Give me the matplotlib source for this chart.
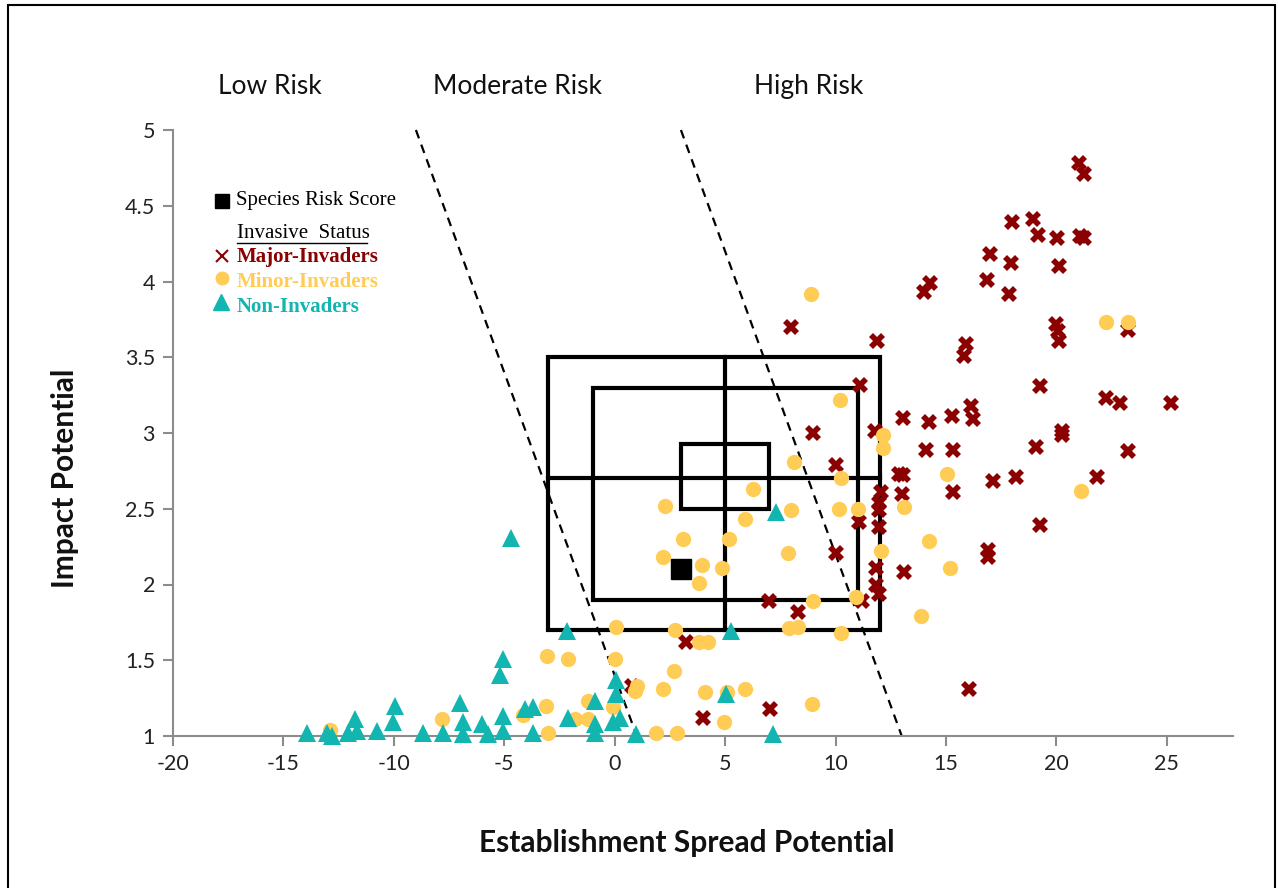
import matplotlib
matplotlib.use("Agg")
import matplotlib.pyplot as plt
from matplotlib.lines import Line2D
from matplotlib.patches import Rectangle

plt.rcParams['axes.unicode_minus'] = False

# ---------------- data ----------------
major_x = [21.02, 21.25, 18.01, 18.94, 19.18, 20.04, 21.07, 21.25, 16.98, 17.96,
           20.12, 16.88, 17.86, 20.0, 20.09, 20.12, 23.24, 15.93, 15.82, 19.24,
           22.23, 22.9, 25.21, 16.13, 16.23, 15.29, 20.24, 20.24, 19.06, 15.33,
           23.24, 17.15, 18.19, 21.85, 15.33, 19.24, 16.92, 16.92, 16.05, 7.99,
           11.9, 11.12, 13.07, 14.24, 8.97, 11.8, 14.09, 10.02, 12.86, 13.07,
           12.06, 12.99, 11.98, 11.98, 11.08, 11.98, 10.02, 11.83, 13.11, 11.83,
           11.98, 11.22, 6.98, 8.29, 7.05, 3.99, 3.21, 0.8, 14.0, 14.3]
major_y = [4.78, 4.71, 4.39, 4.41, 4.31, 4.29, 4.30, 4.29, 4.18, 4.12,
           4.10, 4.01, 3.92, 3.72, 3.67, 3.61, 3.68, 3.59, 3.51, 3.31,
           3.23, 3.20, 3.20, 3.18, 3.09, 3.11, 3.01, 2.99, 2.91, 2.89,
           2.88, 2.68, 2.71, 2.71, 2.61, 2.39, 2.23, 2.18, 1.31, 3.70,
           3.61, 3.32, 3.10, 3.07, 3.00, 3.01, 2.89, 2.79, 2.73, 2.72,
           2.61, 2.60, 2.54, 2.49, 2.41, 2.38, 2.21, 2.11, 2.08, 2.00,
           1.94, 1.89, 1.89, 1.82, 1.18, 1.12, 1.62, 1.33, 3.93, 3.99]

minor_x = [-12.9, -7.8, -3.05, -2.1, 0.0, 0.05, 2.75, 2.7, 0.9, 1.0,
           2.2, -3.09, -4.15, -1.2, -0.08, -1.8, -1.2, -3.0, 1.88, 2.8,
           2.26, 6.25, 8.0, 5.88, 3.1, 5.17, 7.84, 2.2, 3.95, 4.87,
           3.84, 8.97, 10.93, 7.9, 8.3, 10.25, 3.84, 4.22, 4.07, 5.08,
           5.92, 8.94, 4.93, 10.17, 11.0, 8.89, 10.2, 12.13, 12.17, 8.14,
           15.07, 10.25, 13.11, 14.24, 12.06, 15.18, 13.87, 22.23, 23.24, 21.1]
minor_y = [1.04, 1.11, 1.53, 1.51, 1.51, 1.72, 1.70, 1.43, 1.30, 1.33,
           1.31, 1.20, 1.14, 1.23, 1.19, 1.11, 1.11, 1.02, 1.02, 1.02,
           2.52, 2.63, 2.49, 2.43, 2.30, 2.30, 2.21, 2.18, 2.13, 2.11,
           2.01, 1.89, 1.92, 1.71, 1.72, 1.68, 1.62, 1.62, 1.29, 1.29,
           1.31, 1.21, 1.09, 2.50, 2.50, 3.92, 3.22, 2.99, 2.90, 2.81,
           2.73, 2.70, 2.51, 2.29, 2.22, 2.11, 1.79, 3.73, 3.73, 2.62]

non_x = [-13.95, -13.03, -12.81, -12.06, -11.75, -11.68, -10.77, -9.95, -10.02, -8.67,
         -7.76, -7.01, -6.86, -6.86, -6.03, -5.73, -5.05, -5.2, -2.18, -5.05,
         -5.05, -4.07, -3.69, -3.69, -2.11, -0.9, -0.9, -0.9, -0.08, 0.23,
         0.07, 0.07, 0.98, -4.7, 7.31, 5.27, 5.05, 7.16]
non_y = [1.02, 1.02, 1.00, 1.02, 1.11, 1.03, 1.03, 1.20, 1.09, 1.02,
         1.02, 1.22, 1.09, 1.01, 1.08, 1.01, 1.51, 1.40, 1.69, 1.13,
         1.03, 1.18, 1.19, 1.02, 1.12, 1.23, 1.08, 1.02, 1.09, 1.12,
         1.37, 1.28, 1.01, 2.31, 2.48, 1.69, 1.28, 1.01]

species_x = [3.0]
species_y = [2.1]

# confidence boxes (outer, middle, inner)
box_x0 = [-3, -1, 3]
box_x1 = [12, 11, 7]
box_y0 = [1.7, 1.9, 2.5]
box_y1 = [3.5, 3.3, 2.93]
cross_x = 5
cross_y = 2.7

# risk boundary lines
line1_x = [-9, 1]
line1_y = [5, 1]
line2_x = [3, 13]
line2_y = [5, 1]

region_labels = ["Low Risk", "Moderate Risk", "High Risk"]
region_x = [-15.6, -4.4, 8.8]

xticks = [-20, -15, -10, -5, 0, 5, 10, 15, 20, 25]
yticks = [1, 1.5, 2, 2.5, 3, 3.5, 4, 4.5, 5]
ytick_labels = ["1", "1.5", "2", "2.5", "3", "3.5", "4", "4.5", "5"]

c_major = "#8B0000"
c_minor = "#FFCC55"
c_non = "#12B5B0"

W, H = 1278, 888
fig = plt.figure(figsize=(W / 100, H / 100), dpi=100)
fig.patch.set_facecolor("white")

def fx(px):
    return px / W

def fy(py):
    return 1 - py / H

ax = fig.add_axes([fx(173), fy(736), (1233 - 173) / W, (736 - 130) / H])
ax.set_xlim(-20, 28)
ax.set_ylim(1, 5)

font = "Lato"

# boxes
for x0, x1, y0, y1 in zip(box_x0, box_x1, box_y0, box_y1):
    ax.add_patch(Rectangle((x0, y0), x1 - x0, y1 - y0, fill=False,
                           edgecolor="black", linewidth=3, zorder=2))
ax.plot([cross_x, cross_x], [box_y0[0], box_y1[0]], color="black", lw=3, zorder=2)
ax.plot([box_x0[0], box_x1[0]], [cross_y, cross_y], color="black", lw=3, zorder=2)

# risk lines
for lx, ly in [(line1_x, line1_y), (line2_x, line2_y)]:
    ax.plot(lx, ly, color="black", lw=1.6, linestyle=(0, (4, 3)), zorder=2,
            clip_on=False)

# points
ax.plot(major_x, major_y, linestyle="none", marker="X", markersize=11,
        color=c_major, markeredgewidth=0, zorder=3, clip_on=False)
ax.plot(minor_x, minor_y, linestyle="none", marker="o", markersize=11,
        color=c_minor, markeredgewidth=0, zorder=4, clip_on=False)
ax.plot(non_x, non_y, linestyle="none", marker="^", markersize=13,
        color=c_non, markeredgewidth=0, zorder=5, clip_on=False)
ax.plot(species_x, species_y, linestyle="none", marker="s", markersize=14,
        color="black", zorder=6)

# axes styling
for s in ["top", "right"]:
    ax.spines[s].set_visible(False)
for s in ["left", "bottom"]:
    ax.spines[s].set_color("#8c8c8c")
    ax.spines[s].set_linewidth(1.5)
ax.set_xticks(xticks)
ax.set_xticklabels([str(t) for t in xticks])
ax.set_yticks(yticks)
ax.set_yticklabels(ytick_labels)
ax.tick_params(axis="both", direction="out", length=7, width=1.5, color="#8c8c8c",
               labelsize=15.5, labelcolor="#222222", pad=6)
for lab in ax.get_xticklabels() + ax.get_yticklabels():
    lab.set_fontfamily(font)

# axis titles
fig.text(fx(687), fy(843), "Establishment Spread Potential", fontsize=21.5,
         fontweight="bold", family=font, ha="center", va="center", color="#111111")
fig.text(fx(65), fy(478), "Impact Potential", fontsize=21.5, fontweight="bold",
         family=font, ha="center", va="center", rotation=90, color="#111111")

# region labels
for lbl, rx in zip(region_labels, region_x):
    ax.text(rx, 5.29, lbl, fontsize=19, family=font, ha="center", va="center",
            color="#111111", clip_on=False)

# legend
serif = "Liberation Serif"
lfs = 15
fig.add_artist(Line2D([fx(222)], [fy(201)], marker="s", markersize=10,
                      color="black", linestyle="none", transform=fig.transFigure))
fig.text(fx(236), fy(201), "Species Risk Score", fontsize=lfs, family=serif,
         ha="left", va="center", color="black")
fig.text(fx(237), fy(233), "Invasive  Status", fontsize=lfs, family=serif,
         ha="left", va="center", color="black")
fig.add_artist(Line2D([fx(237), fx(367)], [fy(243), fy(243)], color="black",
                      lw=1, transform=fig.transFigure))
fig.add_artist(Line2D([fx(222)], [fy(256)], marker="x", markersize=9, mew=1.5,
                      color=c_major, linestyle="none", transform=fig.transFigure))
fig.text(fx(237), fy(257), "Major-Invaders", fontsize=lfs, family=serif,
         fontweight="bold", ha="left", va="center", color=c_major)
fig.add_artist(Line2D([fx(222)], [fy(278)], marker="o", markersize=9,
                      color=c_minor, linestyle="none", transform=fig.transFigure))
fig.text(fx(237), fy(282), "Minor-Invaders", fontsize=lfs, family=serif,
         fontweight="bold", ha="left", va="center", color=c_minor)
fig.add_artist(Line2D([fx(221)], [fy(302)], marker="^", markersize=11,
                      color=c_non, linestyle="none", transform=fig.transFigure))
fig.text(fx(237), fy(307), "Non-Invaders", fontsize=lfs, family=serif,
         fontweight="bold", ha="left", va="center", color=c_non)

# outer frame
fig.add_artist(Rectangle((fx(8), -0.05), fx(1275) - fx(8), fy(5) + 0.05,
                         fill=False, edgecolor="black", lw=1.5,
                         transform=fig.transFigure))

fig.savefig("out.png", dpi=100)
